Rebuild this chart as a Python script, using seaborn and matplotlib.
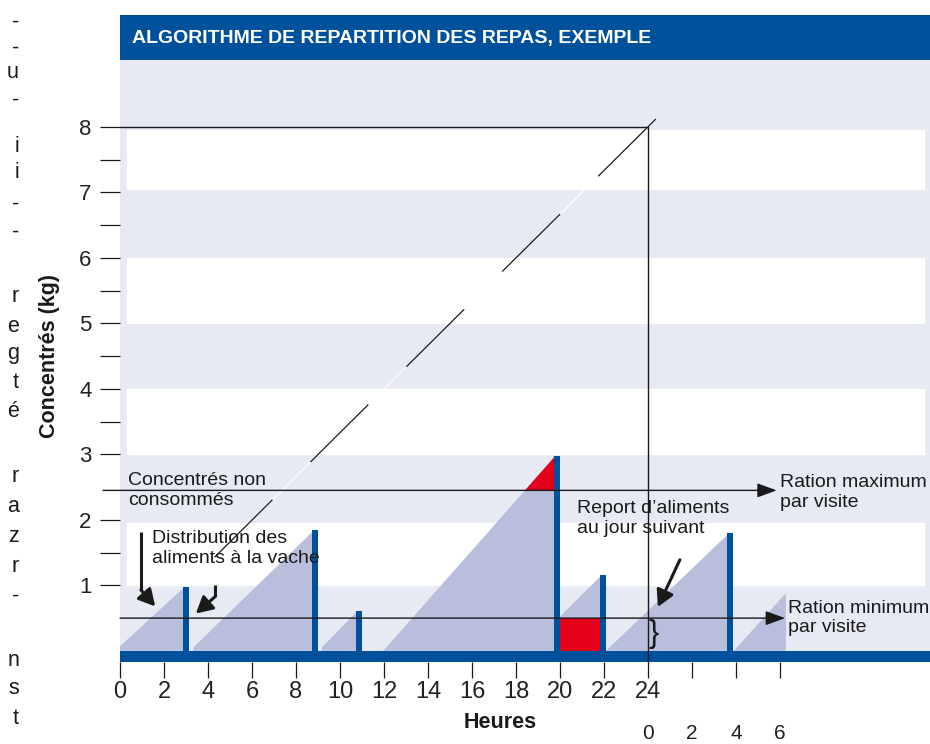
"""Algorithme de répartition des repas : concentrés distribués à la vache au fil des visites."""

import matplotlib.pyplot as plt
import seaborn as sns
from matplotlib.patches import Rectangle
from matplotlib.transforms import blended_transform_factory

# --- valeurs (heures, kg) ---
HOUR_TICKS = list(range(0, 25, 2))
NEXT_DAY_TICKS = [26, 28, 30]
NEXT_DAY_LABELS = ["0", "2", "4", "6"]  # sous 24, 26, 28, 30
Y_MAJOR = [1, 2, 3, 4, 5, 6, 7, 8]
Y_MINOR = [1.5, 3.5, 4.5, 5.5, 6.5, 7.5]

BAND_LOW = [1.0, 3.0, 5.0, 7.05]
BAND_HIGH = [1.95, 4.0, 6.0, 7.95]
BAND_LEFT_H = 0.32
BAND_RIGHT_H = 36.55

# rampes d'accumulation (triangles clairs)
RAMP_START_H = [0.0, 3.33, 9.17, 11.97, 20.0, 22.09, 27.9]
RAMP_START_KG = [0.07, 0.05, 0.05, 0.0, 0.52, 0.0, 0.0]
RAMP_END_H = [2.95, 8.85, 10.8, 19.8, 21.9, 27.7, 30.27]
RAMP_END_KG = [0.98, 1.85, 0.61, 2.98, 1.16, 1.80, 0.88]

# visites : quantité distribuée (barres bleues)
VISIT_H = [3.0, 8.88, 10.86, 19.86, 21.94, 27.74]
VISIT_KG = [0.98, 1.85, 0.61, 2.98, 1.16, 1.80]

RATION_MAX = 2.45
RATION_MIN = 0.5
DAILY_RATION = 8.0
DAY_END = 24.0
DIAG_H = [4.3, 24.36]
DIAG_KG = [1.43, 8.12]
CARRY_H = [20.0, 21.8]  # bloc rouge : report au jour suivant

XMAX = 36.82
YMIN, YMAX = -0.17, 9.02

BLUE = "#00519c"
LAVENDER = "#e7e9f3"
RAMP = "#b8bedb"
RED = "#e2001a"
INK = "#1a1a1a"

W, H = 930, 744


def fx(px):
    return px / W


def fy(py):
    return 1 - py / H


sns.set_theme(style="white")
plt.rcParams["font.family"] = ["Liberation Sans", "DejaVu Sans"]

fig = plt.figure(figsize=(W / 100, H / 100), dpi=100)
ax = fig.add_axes([fx(120), fy(662), fx(930) - fx(120), fy(60) - fy(662)])
ax.set_facecolor(LAVENDER)
ax.set_xlim(0, XMAX)
ax.set_ylim(YMIN, YMAX)
for s in ax.spines.values():
    s.set_visible(False)

# bandes blanches
ax.barh([(lo + hi) / 2 for lo, hi in zip(BAND_LOW, BAND_HIGH)],
        BAND_RIGHT_H - BAND_LEFT_H,
        height=[hi - lo for lo, hi in zip(BAND_LOW, BAND_HIGH)],
        left=BAND_LEFT_H, color="white", zorder=0.5)

# rampes
for sh, sk, eh, ek in zip(RAMP_START_H, RAMP_START_KG, RAMP_END_H, RAMP_END_KG):
    ax.fill([sh, sh, eh, eh], [0, sk, ek, 0], color=RAMP, lw=0, zorder=1)

# concentrés non consommés (au-dessus de la ration maximum)
i = RAMP_END_KG.index(max(RAMP_END_KG))
sh, sk, eh, ek = RAMP_START_H[i], RAMP_START_KG[i], RAMP_END_H[i], RAMP_END_KG[i]
x_cross = sh + (RATION_MAX - sk) / (ek - sk) * (eh - sh)
ax.fill([x_cross, eh, eh], [RATION_MAX, ek, RATION_MAX], color=RED, lw=0, zorder=1.5)

# report au jour suivant
ax.fill_between(CARRY_H, 0, RATION_MIN, color=RED, lw=0, zorder=1.5)

# distributions
ax.bar(VISIT_H, VISIT_KG, width=0.27, color=BLUE, lw=0, zorder=2)
ax.axhspan(YMIN, 0, color=BLUE, lw=0, zorder=2)

# ration journalière cumulée (diagonale)
lw = 0.9
on_pt, off_pt = 58.7, 38.6
sns.lineplot(x=DIAG_H, y=DIAG_KG, ax=ax, color="white", lw=lw, zorder=3)
ax.plot(DIAG_H, DIAG_KG, color=INK, lw=lw, zorder=3.1,
        linestyle=(0, (on_pt / lw, off_pt / lw)))

# repères 8 kg / 24 h
ax.plot([0, DAY_END], [DAILY_RATION, DAILY_RATION], color=INK, lw=1, zorder=3)
ax.plot([DAY_END, DAY_END], [DAILY_RATION, YMIN], color=INK, lw=1, zorder=3, clip_on=False)

# rations max / min
head = dict(arrowstyle="-|>,head_length=0.6,head_width=0.22", color=INK, lw=1,
            mutation_scale=20, shrinkA=0, shrinkB=0)
ax.annotate("", xy=(29.85, RATION_MAX), xytext=(-0.77, RATION_MAX),
            arrowprops=head, annotation_clip=False, zorder=3)
ax.annotate("", xy=(30.23, RATION_MIN), xytext=(0.0, RATION_MIN),
            arrowprops=head, annotation_clip=False, zorder=3)

# flèches épaisses
thick = dict(arrowstyle="-|>,head_length=0.55,head_width=0.3", color=INK, lw=2.2,
             mutation_scale=18, shrinkA=0, shrinkB=0)
ax.plot([0.95, 0.95], [1.82, 0.93], color=INK, lw=2.2, solid_capstyle="butt", zorder=4)
ax.annotate("", xy=(1.6, 0.68), xytext=(0.95, 0.93), arrowprops=thick, zorder=4)
ax.plot([4.3, 4.3], [1.0, 0.82], color=INK, lw=2.2, solid_capstyle="butt", zorder=4)
ax.annotate("", xy=(3.45, 0.57), xytext=(4.3, 0.82), arrowprops=thick, zorder=4)
ax.annotate("", xy=(24.45, 0.67), xytext=(25.45, 1.39), arrowprops=thick, zorder=4)

ax.text(24.02, 0.25, "}", fontsize=22, color=INK, ha="left", va="center", zorder=4)

# textes
txt = dict(fontsize=14, color=INK, va="center", ha="left", linespacing=1.2, zorder=5)
ax.text(0.36, 2.45, "Concentrés non\nconsommés", **txt)
ax.text(1.45, 1.56, "Distribution des\naliments à la vache", **txt)
ax.text(20.77, 2.02, "Report d’aliments\nau jour suivant", **txt)
ax.text(30.0, 2.42, "Ration maximum\npar visite", **txt)
ax.text(30.35, 0.5, "Ration minimum\npar visite", **txt, clip_on=False)

# axes
ax.set_yticks(Y_MAJOR, labels=[str(v) for v in Y_MAJOR])
ax.set_yticks(Y_MINOR, minor=True)
ax.tick_params(axis="y", which="both", left=True, direction="out", length=14.4,
               width=0.9, color=INK, pad=6, labelsize=16, labelcolor="#222222")
ax.set_xticks(HOUR_TICKS + NEXT_DAY_TICKS,
              labels=[str(h) for h in HOUR_TICKS] + [""] * len(NEXT_DAY_TICKS))
ax.tick_params(axis="x", bottom=True, direction="out", length=11.5, width=0.9,
               color=INK, pad=2, labelsize=17, labelcolor="#222222")

tr = blended_transform_factory(ax.transData, fig.transFigure)
for h, lab in zip([DAY_END] + NEXT_DAY_TICKS, NEXT_DAY_LABELS):
    ax.text(h, fy(724), lab, transform=tr, ha="center", va="top", fontsize=15,
            color="#222222")

fig.text(fx(500), fy(722), "Heures", fontsize=15.5, fontweight="bold", color=INK,
         ha="center", va="center")
fig.text(fx(50), fy(356), "Concentrés (kg)", fontsize=15.5, fontweight="bold",
         color=INK, rotation=90, ha="center", va="center")

# bandeau de titre
fig.patches.append(Rectangle((fx(120), fy(60)), fx(930) - fx(120), fy(15) - fy(60),
                             transform=fig.transFigure, color=BLUE, lw=0))
fig.text(fx(132), fy(38), "ALGORITHME DE REPARTITION DES REPAS, EXEMPLE",
         fontsize=14, fontweight="bold", color="white", ha="left", va="center")

# fins de lignes du texte courant (marge gauche)
margin = [("-", 22), ("-", 48), ("u", 72), ("-", 100), ("i", 146), ("i", 172),
          ("-", 204), ("-", 232), ("r", 297), ("e", 326), ("g", 353), ("t", 382),
          ("é", 412), ("r", 477), ("a", 507), ("z", 537), ("r", 566), ("-", 596),
          ("n", 660), ("s", 689), ("t", 718)]
for ch, y in margin:
    fig.text(fx(19), fy(y), ch, fontsize=15.5, color=INK, ha="right", va="center")

fig.savefig("out.png", dpi=100)
